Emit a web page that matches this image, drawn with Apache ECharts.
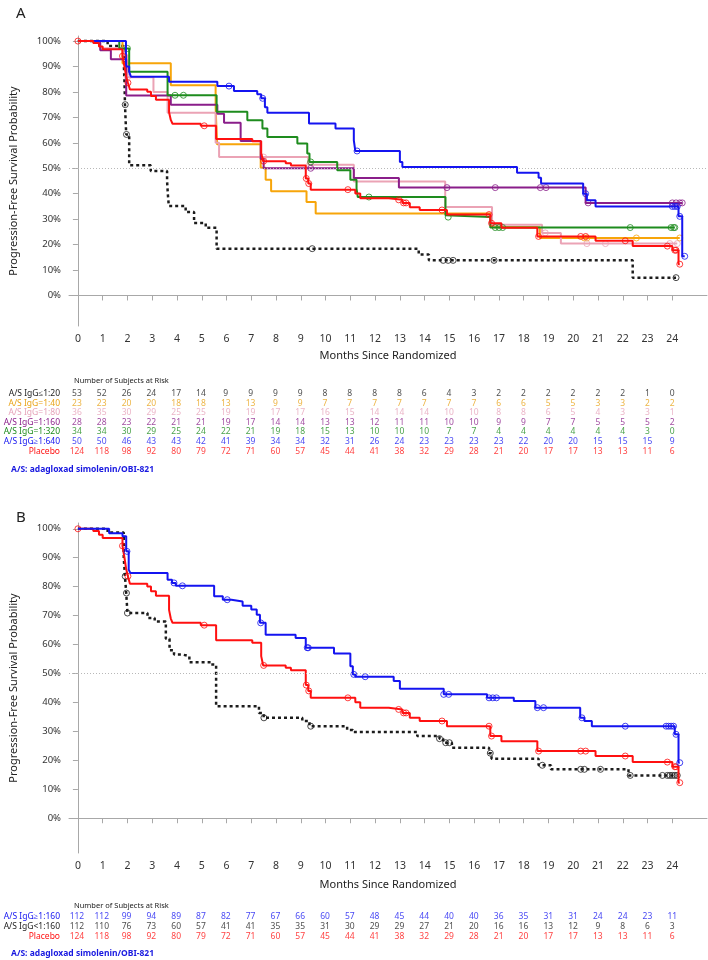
<!DOCTYPE html>
<html>
<head>
<meta charset="utf-8">
<script src="https://cdn.jsdelivr.net/npm/echarts@6/dist/echarts.min.js"></script>
<style>
html, body { margin: 0; padding: 0; background: #fff; }
#main { width: 708px; height: 960px; }
</style>
</head>
<body>
<div id="main"></div>
<script>
// tick labels
const months = [0, 1, 2, 3, 4, 5, 6, 7, 8, 9, 10, 11, 12, 13, 14, 15, 16, 17, 18, 19, 20, 21, 22, 23, 24];
const pctTicks = [0, 10, 20, 30, 40, 50, 60, 70, 80, 90, 100];

// placebo (shared by both panels)
const placeboT = [0, 0.62, 0.85, 1.0, 1.8, 1.88, 1.95, 2.02, 2.1, 2.8, 2.95, 3.15, 3.68, 3.75, 3.82, 4.96, 5.58, 7.04, 7.4, 7.48, 8.39, 8.6, 9.2, 9.3, 9.4, 11.2, 11.4, 12.55, 13.1, 13.4, 13.8, 14.9, 16.65, 17.1, 18.55, 20.9, 22.4, 24.0, 24.25];
const placeboS = [100, 99.2, 97.9, 96.8, 94.1, 90, 86, 83.6, 81.0, 80.1, 78.4, 76.9, 72, 69, 67.5, 66.7, 61.5, 60.6, 56, 52.8, 52.0, 51.1, 46, 44, 41.6, 40.1, 38.2, 37.6, 36.4, 34.7, 33.6, 31.8, 28.4, 26.6, 23.2, 21.5, 19.4, 17.8, 12.3];
const placeboCens = [0, 1.8, 2.02, 5.1, 7.5, 9.22, 9.32, 10.9, 12.95, 13.15, 13.25, 14.7, 16.6, 16.7, 18.6, 20.3, 20.5, 22.1, 23.8, 24.1, 24.15, 24.3];

// panel A
const le20T = [0, 1.2, 1.85, 1.88, 1.9, 1.95, 2.07, 2.94, 3.6, 3.63, 3.67, 4.35, 4.69, 5.16, 5.6, 13.76, 14.17, 22.4];
const le20S = [100, 98.1, 92, 84, 75, 63.3, 51.2, 48.9, 45, 40, 35.2, 32.8, 28.5, 26.6, 18.4, 16.1, 13.8, 7.0];
const le20Cens = [1.91, 1.96, 9.46, 14.75, 14.95, 15.15, 16.8, 24.15];

const t40T = [0, 1.8, 3.75, 5.56, 5.62, 7.38, 7.58, 7.8, 9.23, 9.6, 16.7, 18.65];
const t40S = [100, 91.3, 82.6, 73.9, 59.4, 50.2, 45.5, 41.0, 36.7, 32.2, 26.8, 22.6];
const t40Cens = [20.45, 20.55, 22.55, 24.3];

const t80T = [0, 0.9, 1.85, 2.0, 3.05, 3.62, 5.56, 5.7, 9.3, 11.14, 14.83, 16.72, 18.74, 19.5];
const t80S = [100, 97.2, 94.4, 85.8, 80, 71.8, 60, 54.4, 51.4, 44.8, 34.8, 27.8, 24.6, 20.4];
const t80Cens = [2.0, 7.5, 9.35, 18.87, 20.55, 21.3, 23.9, 24.2];

const t160T = [0, 0.9, 1.33, 1.95, 3.75, 5.63, 5.9, 6.57, 7.38, 7.5, 11.14, 12.96, 20.5];
const t160S = [100, 96.4, 92.9, 78.6, 75.0, 71.4, 67.9, 60.7, 53.6, 50.0, 46.2, 42.4, 36.4];
const t160Cens = [9.4, 14.9, 16.85, 18.67, 18.9, 20.6, 24.0, 24.15, 24.3, 24.4];

const t320T = [0, 1.67, 2.07, 3.62, 5.6, 6.84, 7.45, 7.65, 8.86, 9.26, 9.35, 10.47, 11.0, 11.25, 11.3, 14.84, 14.9, 16.65];
const t320S = [100, 97.1, 87.9, 78.7, 72.2, 68.9, 65.6, 62.3, 59.7, 55.8, 52.5, 49.2, 45.5, 42, 38.7, 31.5, 30.8, 26.7];
const t320Cens = [2.0, 3.92, 4.26, 9.4, 11.75, 14.95, 16.85, 17.0, 17.15, 22.3, 23.95, 24.05, 24.1];

const ge640T = [0, 1.94, 2.07, 2.14, 3.68, 5.63, 6.3, 7.24, 7.4, 7.55, 7.65, 9.33, 10.4, 11.14, 11.2, 13.0, 13.1, 17.73, 18.6, 18.7, 20.4, 20.55, 20.9, 24.25, 24.4];
const ge640S = [100, 90, 87.9, 86, 84, 82.3, 80.4, 79.1, 77.5, 74, 71.8, 67.6, 65.6, 61, 56.8, 52.5, 50.5, 48.2, 46.3, 44, 40, 37.4, 35, 31.1, 15.4];
const ge640Cens = [6.1, 7.46, 11.27, 20.5, 24.0, 24.1, 24.2, 24.3, 24.5];

// panel B
const ge160T = [0, 1.26, 1.8, 1.95, 2.05, 2.12, 3.62, 3.8, 3.95, 5.5, 5.85, 6.2, 6.65, 7.0, 7.22, 7.35, 7.58, 8.79, 9.2, 10.34, 11.0, 11.1, 11.2, 12.75, 13.0, 14.77, 16.52, 17.6, 18.47, 20.28, 20.45, 20.75, 24.1, 24.25];
const ge160S = [100, 98.5, 97.4, 92.2, 85.9, 84.7, 82.4, 81.3, 80.3, 76.7, 75.5, 74.9, 73.4, 72.1, 70.3, 67.5, 63.4, 62.3, 58.9, 56.9, 52.5, 49.7, 48.9, 47.4, 44.7, 42.8, 41.6, 40.5, 38.2, 34.7, 33.6, 31.8, 29, 19.2];
const ge160Cens = [1.98, 3.88, 4.22, 6.03, 7.38, 9.26, 9.3, 11.14, 11.6, 14.77, 14.97, 16.6, 16.75, 16.9, 18.55, 18.8, 20.35, 22.1, 23.75, 23.85, 23.95, 24.05, 24.15, 24.3];

const lt160T = [0, 1.2, 1.85, 1.9, 1.95, 2.0, 2.81, 3.1, 3.55, 3.7, 3.88, 4.2, 4.5, 5.36, 5.58, 7.31, 7.5, 9.06, 9.35, 10.87, 11.1, 13.7, 14.6, 14.75, 15.1, 16.6, 16.7, 18.6, 19.1, 22.23];
const lt160S = [100, 98.7, 90, 83.6, 77.8, 70.9, 69.2, 68.0, 62, 58, 56.6, 56.0, 53.9, 53.1, 38.7, 36.4, 34.7, 33.6, 31.8, 30.5, 29.8, 28.4, 27.5, 26.1, 24.4, 22.5, 20.6, 18.3, 16.9, 14.8];
const lt160Cens = [1.91, 1.96, 2.0, 7.51, 9.4, 14.6, 14.85, 15.0, 16.65, 18.75, 20.3, 20.45, 21.1, 22.3, 23.6, 23.8, 23.9, 24.0, 24.1, 24.2];

// number at risk
const riskNamesA = ["A/S IgG≤1:20", "A/S IgG=1:40", "A/S IgG=1:80", "A/S IgG=1:160", "A/S IgG=1:320", "A/S IgG≥1:640", "Placebo"];
const riskLe20 = [53, 52, 26, 24, 17, 14, 9, 9, 9, 9, 8, 8, 8, 8, 6, 4, 3, 2, 2, 2, 2, 2, 2, 1, 0];
const risk40 = [23, 23, 20, 20, 18, 18, 13, 13, 9, 9, 7, 7, 7, 7, 7, 7, 7, 6, 6, 5, 5, 3, 3, 2, 2];
const risk80 = [36, 35, 30, 29, 25, 25, 19, 19, 17, 17, 16, 15, 14, 14, 14, 10, 10, 8, 8, 6, 5, 4, 3, 3, 1];
const risk160 = [28, 28, 23, 22, 21, 21, 19, 17, 14, 14, 13, 13, 12, 11, 11, 10, 10, 9, 9, 7, 7, 5, 5, 5, 2];
const risk320 = [34, 34, 30, 29, 25, 24, 22, 21, 19, 18, 15, 13, 10, 10, 10, 7, 7, 4, 4, 4, 4, 4, 4, 3, 0];
const riskGe640 = [50, 50, 46, 43, 43, 42, 41, 39, 34, 34, 32, 31, 26, 24, 23, 23, 23, 23, 22, 20, 20, 15, 15, 15, 9];
const riskPlacebo = [124, 118, 98, 92, 80, 79, 72, 71, 60, 57, 45, 44, 41, 38, 32, 29, 28, 21, 20, 17, 17, 13, 13, 11, 6];
const riskNamesB = ["A/S IgG≥1:160", "A/S IgG<1:160", "Placebo"];
const riskGe160 = [112, 112, 99, 94, 89, 87, 82, 77, 67, 66, 60, 57, 48, 45, 44, 40, 40, 36, 35, 31, 31, 24, 24, 23, 11];
const riskLt160 = [112, 110, 76, 73, 60, 57, 41, 41, 35, 35, 31, 30, 29, 29, 27, 21, 20, 16, 16, 13, 12, 9, 8, 6, 3];

const FONT = "Noto Sans";
const C = {
  black: "#1c1c1c", orange: "#F7A50A", pink: "#EBA3B5", purple: "#8A1E8A",
  green: "#1E8C1E", blue: "#1414F0", red: "#FF1010"
};

function survAt(t, s, x) {
  let v = s[0];
  for (let i = 0; i < t.length; i++) if (t[i] <= x) v = s[i];
  return v;
}

function kmSeries(t, s, cens, color, axis, dashed, z) {
  let data = t.map((x, i) => [x, s[i]]);
  let end = Math.max(t[t.length - 1], ...cens);
  if (end > t[t.length - 1]) data.push([end, s[s.length - 1]]);
  return [
    {
      type: "line", step: "end", xAxisIndex: axis, yAxisIndex: axis,
      data: data, symbol: "none", silent: true, z: z,
      lineStyle: { color: color, width: dashed ? 2.5 : 2, type: dashed ? [3, 3] : "solid" }
    },
    {
      type: "scatter", xAxisIndex: axis, yAxisIndex: axis, silent: true, z: z,
      data: cens.map(c => [c, survAt(t, s, c)]),
      symbol: "circle", symbolSize: 6,
      itemStyle: { color: "rgba(255,255,255,0)", borderColor: color, borderWidth: 1 }
    }
  ];
}

function refLine(axis) {
  return {
    type: "line", xAxisIndex: axis, yAxisIndex: axis, data: [], silent: true,
    markLine: {
      silent: true, symbol: "none", label: { show: false },
      lineStyle: { color: "#b8b8b8", type: [1, 2], width: 1 },
      data: [{ yAxis: 50 }]
    }
  };
}

function riskSeries(axis, names, rows, colors) {
  return rows.map((vals, r) => ({
    type: "scatter", xAxisIndex: axis, yAxisIndex: axis, silent: true,
    data: months.map((m, i) => [m, names[r], vals[i]]),
    symbolSize: 1, itemStyle: { color: "rgba(0,0,0,0)" },
    label: {
      show: true, position: "inside", formatter: p => p.value[2],
      color: colors[r], fontSize: 8.5, fontFamily: FONT
    }
  }));
}

const axisGray = "#a8a8a8";
function kmX(grid, gap) {
  return {
    type: "value", gridIndex: grid, min: -0.36, max: 25.4,
    name: "Months Since Randomized", nameLocation: "middle", nameGap: gap,
    nameTextStyle: { fontSize: 11, color: "#222", fontFamily: FONT },
    axisLine: { lineStyle: { color: axisGray } },
    axisTick: { length: 5, customValues: months, lineStyle: { color: axisGray } },
    axisLabel: { customValues: months, margin: 8, fontSize: 10.5, color: "#333", fontFamily: FONT },
    splitLine: { show: false }
  };
}
function kmY(grid) {
  return {
    type: "value", gridIndex: grid, min: -12, max: 102,
    name: "Progression-Free Survival Probability", nameLocation: "middle", nameGap: 50,
    nameTextStyle: { fontSize: 11, color: "#222", fontFamily: FONT },
    axisLine: { show: true, lineStyle: { color: axisGray } },
    axisTick: { show: true, length: 5, customValues: pctTicks, lineStyle: { color: axisGray } },
    axisLabel: { customValues: pctTicks, formatter: "{value}%", margin: 8, fontSize: 9.5, color: "#333", fontFamily: FONT },
    splitLine: { show: false }
  };
}
function riskX(grid) {
  return { type: "value", gridIndex: grid, min: -0.36, max: 25.4, show: false };
}
function riskY(grid, names, colors) {
  return {
    type: "category", gridIndex: grid, data: names, inverse: true,
    axisLine: { show: false }, axisTick: { show: false }, splitLine: { show: false },
    axisLabel: { interval: 0, margin: 8, fontSize: 8.5, fontFamily: FONT, color: (v, i) => colors[i] }
  };
}

const colorsA = [C.black, "#E9A317", "#E6A3B9", C.purple, C.green, C.blue, C.red];
const colorsB = [C.blue, C.black, C.red];

let chart = echarts.init(document.getElementById("main"));
chart.setOption({
  animation: false,
  backgroundColor: "#fff",
  title: [
    { text: "A", left: 11, top: 1, textStyle: { fontSize: 15, fontWeight: "normal", color: "#222", fontFamily: FONT } },
    { text: "B", left: 11, top: 505, textStyle: { fontSize: 15, fontWeight: "normal", color: "#222", fontFamily: FONT } },
    { text: "Number of Subjects at Risk", left: 69, top: 372, textStyle: { fontSize: 7.5, fontWeight: "normal", color: "#222", fontFamily: FONT } },
    { text: "Number of Subjects at Risk", left: 69, top: 897, textStyle: { fontSize: 7.5, fontWeight: "normal", color: "#222", fontFamily: FONT } },
    { text: "A/S: adagloxad simolenin/OBI-821", left: 6, top: 460, textStyle: { fontSize: 8.5, fontWeight: "bold", color: "#1818E0", fontFamily: FONT } },
    { text: "A/S: adagloxad simolenin/OBI-821", left: 6, top: 944, textStyle: { fontSize: 8.5, fontWeight: "bold", color: "#1818E0", fontFamily: FONT } }
  ],
  grid: [
    { left: 68, right: 1, top: 36, height: 290 },
    { left: 68, right: 1, top: 389, height: 67 },
    { left: 68, right: 1, top: 523, height: 330 },
    { left: 68, right: 1, top: 912, height: 30 }
  ],
  xAxis: [kmX(0, 24), riskX(1), kmX(2, 26), riskX(3)],
  yAxis: [kmY(0), riskY(1, riskNamesA, colorsA), kmY(2), riskY(3, riskNamesB, colorsB)],
  series: [
    refLine(0),
    ...kmSeries(le20T, le20S, le20Cens, C.black, 0, true, 2),
    ...kmSeries(t40T, t40S, t40Cens, C.orange, 0, false, 3),
    ...kmSeries(t80T, t80S, t80Cens, C.pink, 0, false, 3),
    ...kmSeries(t160T, t160S, t160Cens, C.purple, 0, false, 4),
    ...kmSeries(t320T, t320S, t320Cens, C.green, 0, false, 4),
    ...kmSeries(ge640T, ge640S, ge640Cens, C.blue, 0, false, 5),
    ...kmSeries(placeboT, placeboS, placeboCens, C.red, 0, false, 6),
    ...riskSeries(1, riskNamesA, [riskLe20, risk40, risk80, risk160, risk320, riskGe640, riskPlacebo], colorsA),
    refLine(2),
    ...kmSeries(lt160T, lt160S, lt160Cens, C.black, 2, true, 2),
    ...kmSeries(placeboT, placeboS, placeboCens, C.red, 2, false, 3),
    ...kmSeries(ge160T, ge160S, ge160Cens, C.blue, 2, false, 4),
    ...riskSeries(3, riskNamesB, [riskGe160, riskLt160, riskPlacebo], colorsB)
  ]
});
</script>
</body>
</html>
